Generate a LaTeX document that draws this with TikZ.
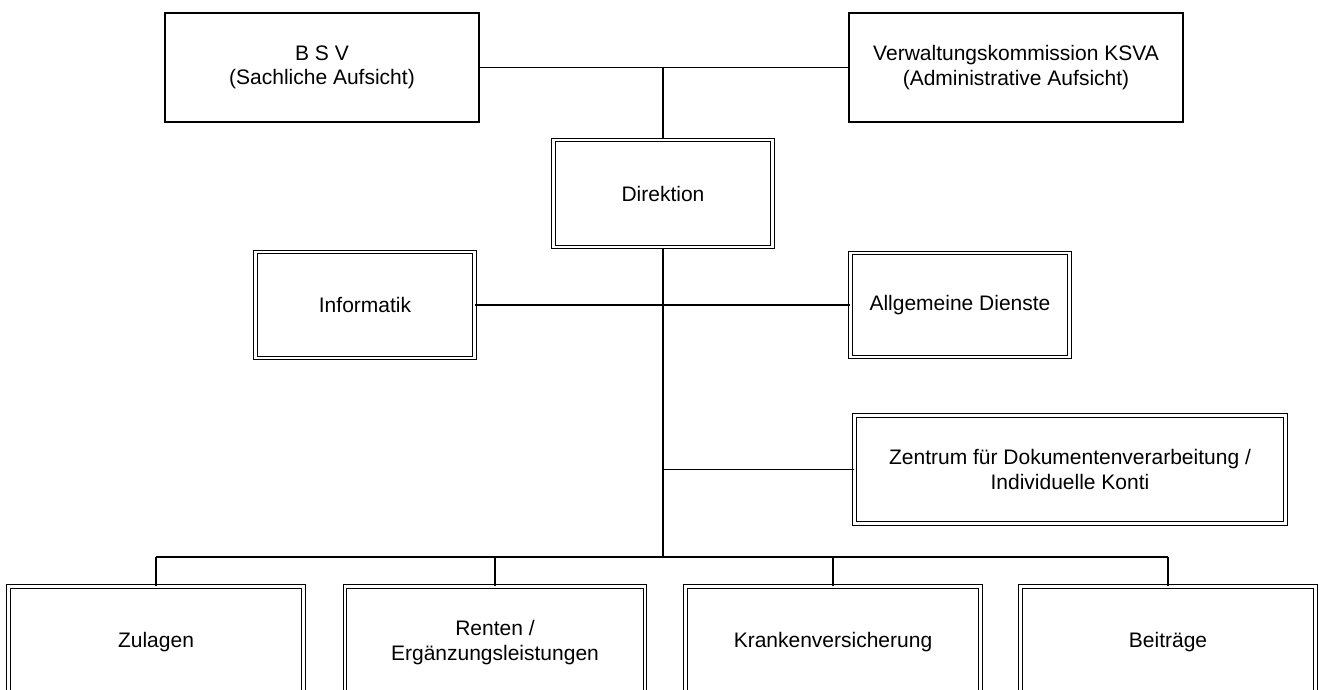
\documentclass[tikz,border=0pt]{standalone}
\usepackage{fontspec}
\setmainfont{Liberation Sans}
\usetikzlibrary{positioning}
\tikzset{
  board/.style={draw=black,line width=1.5pt,align=center,inner sep=0pt,
    font=\fontsize{21}{24.5}\selectfont},
  unit/.style={board,line width=1.2pt,double=white,double distance=2.4pt},
  link/.style={draw=black,line width=1.6pt}
}

\begin{document}
\begin{tikzpicture}[x=1pt,y=-1pt]
\clip (0,0) rectangle (1322,690);
% Aufsicht
\node[board,minimum width=314pt,minimum height=109pt] (bsv) at (322,67.5) {B S V\\(Sachliche Aufsicht)};
\node[board,minimum width=334pt,minimum height=109pt] (ksva) at (1016,67.5) {Verwaltungskommission KSVA\\(Administrative Aufsicht)};
% Leitung und Stab
\node[unit,minimum width=219pt,minimum height=107pt] (dir) at (663,193.5) {Direktion};
\node[unit,minimum width=219pt,minimum height=106pt] (inf) at (365,305) {Informatik};
\node[unit,minimum width=219pt,minimum height=104pt] (ad) at (960,305) {Allgemeine Dienste};
\node[unit,minimum width=431pt,minimum height=108pt] (zdv) at (1070,469.5) {Zentrum für Dokumentenverarbeitung /\\Individuelle Konti};
% Abteilungen
\node[unit,minimum width=295pt,minimum height=112pt] (zul) at (156,642.5) {Zulagen};
\node[unit,minimum width=300pt,minimum height=112pt] (ren) at (495,642.5) {Renten /\\Ergänzungsleistungen};
\node[unit,minimum width=295pt,minimum height=112pt] (kv) at (833,642.5) {Krankenversicherung};
\node[unit,minimum width=295pt,minimum height=112pt] (bei) at (1168,642.5) {Beiträge};
\coordinate (bus) at (663,557);
% Verbindungen
\draw[link] (bsv.east) -- (ksva.west);
\draw[link] (dir.north |- bsv.east) -- (dir.north);
\draw[link] (dir.south) -- (bus);
\draw[link] (inf.east) -- (ad.west);
\draw[link] (dir.south |- zdv.west) -- (zdv.west);
\draw[link] (zul.north |- bus) -- (bei.north |- bus);
\foreach \n in {zul,ren,kv,bei}
  \draw[link] (\n.north |- bus) -- (\n.north);
\end{tikzpicture}
\end{document}
